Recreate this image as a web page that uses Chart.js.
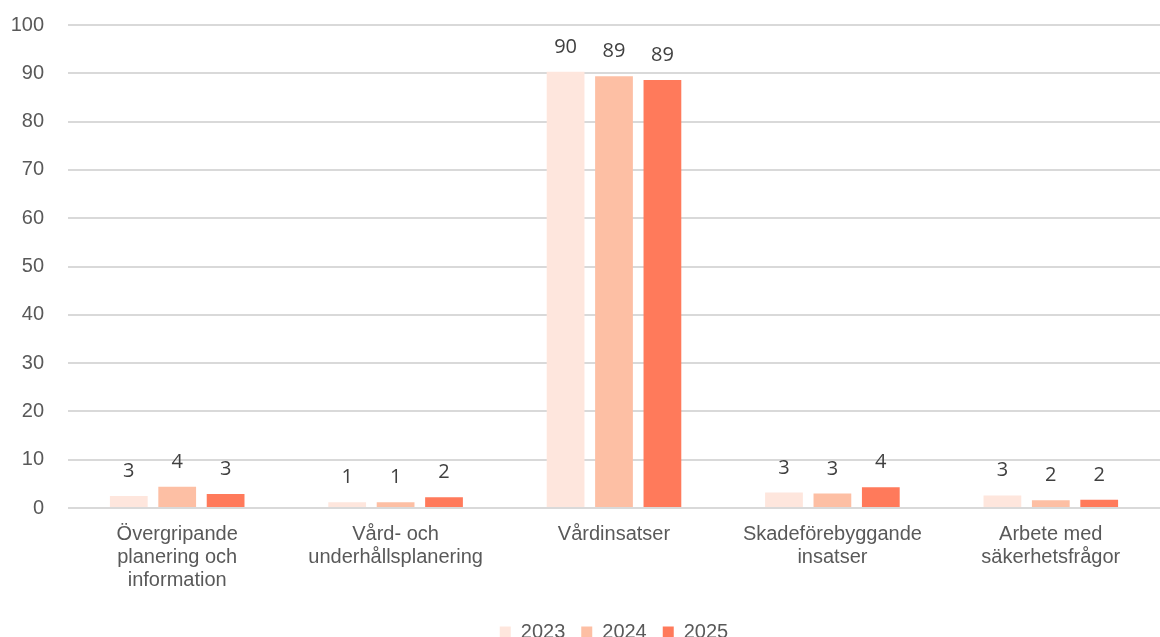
<!DOCTYPE html>
<html lang="sv">
  <head>
    <meta charset="utf-8">
    <title>Chart</title>
    <script src="https://cdn.jsdelivr.net/npm/chart.js@4"></script>
    <style>
        html, body { margin: 0; padding: 0; background: #fff; overflow: hidden; }
        div.wrap { width: 1160px; height: 652px; }
    </style>
  </head>
  <body>
    <div class="wrap"><canvas id="chart-1"></canvas></div>

    <script>
        var categories = [
            ["Övergripande", "planering och", "information"],
            ["Vård- och", "underhållsplanering"],
            ["Vårdinsatser"],
            ["Skadeförebyggande", "insatser"],
            ["Arbete med", "säkerhetsfrågor"]
        ];
        var years = ["2023", "2024", "2025"];
        var values2023 = [2.5, 1.2, 90.3, 3.2, 2.6];
        var values2024 = [4.4, 1.2, 89.4, 3.0, 1.6];
        var values2025 = [2.9, 2.2, 88.6, 4.3, 1.7];
        var yTicks = [0, 10, 20, 30, 40, 50, 60, 70, 80, 90, 100];
        var colors = ["#fee6dd", "#fdbfa4", "#ff7a5b"];

        var axisFont = { family: 'Arial, "Liberation Sans", sans-serif', size: 20, lineHeight: 1.15 };

        // value labels above bars, rounded like the original
        var barLabels = {
            id: 'barLabels',
            afterDatasetsDraw: function(chart) {
                var ctx = chart.ctx;
                ctx.save();
                ctx.font = '20px "Open Sans", "DejaVu Sans", sans-serif';
                ctx.fillStyle = '#404040';
                ctx.textAlign = 'center';
                ctx.textBaseline = 'alphabetic';
                chart.data.datasets.forEach(function(ds, i) {
                    chart.getDatasetMeta(i).data.forEach(function(bar, j) {
                        ctx.fillText(Math.round(ds.data[j]), bar.x, bar.y - 19);
                    });
                });
                ctx.restore();
            }
        };

        new Chart(document.getElementById("chart-1"), {
            type: 'bar',
            data: {
                labels: categories,
                datasets: [
                    { label: years[0], data: values2023, backgroundColor: colors[0] },
                    { label: years[1], data: values2024, backgroundColor: colors[1] },
                    { label: years[2], data: values2025, backgroundColor: colors[2] }
                ]
            },
            options: {
                responsive: true,
                maintainAspectRatio: false,
                animation: false,
                layout: { padding: { top: 25, right: 0, left: 0, bottom: 0 } },
                datasets: { bar: { barPercentage: 0.78, categoryPercentage: 0.665 } },
                scales: {
                    x: {
                        grid: { display: false },
                        border: { display: false },
                        afterFit: function(axis) { axis.height += 7; },
                        ticks: {
                            color: '#595959',
                            font: axisFont,
                            maxRotation: 0,
                            autoSkip: false,
                            padding: 7
                        }
                    },
                    y: {
                        min: 0,
                        max: 100,
                        afterBuildTicks: function(axis) {
                            axis.ticks = yTicks.map(function(v) { return { value: v }; });
                        },
                        afterFit: function(axis) {
                            axis.width = 68;
                            axis.paddingTop = 0;
                            axis.paddingBottom = 0;
                        },
                        grid: { color: '#d9d9d9', lineWidth: 2, drawTicks: false },
                        border: { display: false },
                        ticks: {
                            color: '#595959',
                            font: axisFont,
                            padding: 24
                        }
                    }
                },
                plugins: {
                    legend: {
                        position: 'bottom',
                        fullSize: false,
                        labels: {
                            color: '#595959',
                            font: axisFont,
                            boxWidth: 11,
                            boxHeight: 11,
                            padding: 16
                        }
                    },
                    tooltip: { enabled: false }
                }
            },
            plugins: [barLabels]
        });
    </script>
  </body>
</html>
